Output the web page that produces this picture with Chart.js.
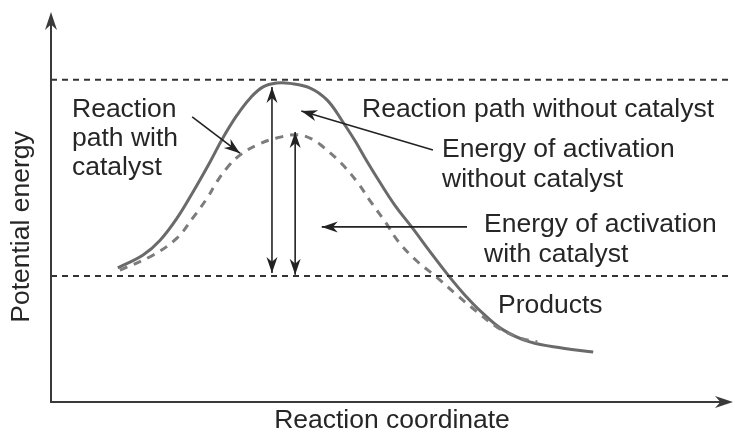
<!DOCTYPE html>
<html>
<head>
<meta charset="utf-8">
<script src="https://cdn.jsdelivr.net/npm/chart.js@4"></script>
<style>
  body { margin:0; background:#fff; }
  .chart_container { width:735px; height:435px; position:relative; }
</style>
</head>
<body>
<div class="chart_container"><canvas id="chart"></canvas></div>
<script>
// reaction coordinate (0-100) and potential energy (0-100)
var no_cat_x = [9.8, 13.5, 16.0, 18.5, 20.8, 23.3, 25.2, 27.3, 29.2, 31.1, 33.1, 35.0, 38.0, 40.5, 42.8, 44.6, 46.3, 48.2, 50.4, 53.1, 55.6, 58.2, 60.7, 63.3, 66.3, 70.2, 75.1, 79.5];
var no_cat_y = [34.4, 37.7, 41.5, 47.2, 53.8, 61.5, 67.7, 73.6, 77.9, 80.8, 81.8, 81.7, 80.5, 77.4, 71.8, 66.9, 61.8, 56.4, 50.5, 44.4, 38.5, 32.6, 27.4, 22.8, 18.5, 15.4, 13.8, 12.8];

var cat_x = [10.1, 15.0, 18.5, 20.8, 22.9, 24.3, 25.8, 27.7, 30.2, 33.1, 36.1, 38.3, 39.9, 42.4, 44.9, 46.9, 49.0, 51.0, 53.8, 56.5, 59.2, 62.5, 65.4, 68.8, 71.3];
var cat_y = [33.8, 37.7, 42.1, 47.2, 52.3, 56.4, 60.0, 63.3, 65.9, 67.7, 68.5, 67.4, 65.4, 61.5, 56.4, 51.3, 46.2, 41.0, 35.9, 32.1, 27.9, 23.1, 19.2, 16.4, 15.4];

var peak_level = 82.6;
var reactant_level = 32.3;

var axis_titles = ["Reaction coordinate", "Potential energy"];

function ToPoints(xs, ys){
  return xs.map((x, i) => ({x:x, y:ys[i]}));
}

// arrows in data units: [x1, y1, x2, y2, both ends]
var arrows = [
  [32.4, 33.1, 32.4, 80.8, true],
  [35.8, 32.6, 35.8, 69.2, true],
  [20.7, 73.1, 27.7, 63.8, false],
  [56.0, 64.6, 36.7, 74.6, false],
  [61.0, 44.9, 39.7, 44.9, false]
];

// text labels: [text, left px, baseline px]
var labels = [
  ["Reaction", 72, 117],
  ["path with", 72, 146],
  ["catalyst", 72, 175],
  ["Reaction path without catalyst", 362, 117],
  ["Energy of activation", 442, 157],
  ["without catalyst", 442, 187],
  ["Energy of activation", 484, 232],
  ["with catalyst", 484, 262],
  ["Products", 498, 313]
];

var FONT = '26.5px "Liberation Sans", Arial, sans-serif';

function Head(ctx, x1, y1, x2, y2, len, wid){
  var a = Math.atan2(y2 - y1, x2 - x1);
  ctx.save();
  ctx.translate(x2, y2);
  ctx.rotate(a);
  ctx.beginPath();
  ctx.moveTo(0, 0);
  ctx.lineTo(-len, -wid / 2);
  ctx.lineTo(-len * 0.7, 0);
  ctx.lineTo(-len, wid / 2);
  ctx.closePath();
  ctx.fill();
  ctx.restore();
}

var decor = {
  id:"decor",
  afterDraw(chart){
    var ctx = chart.ctx;
    var xs = chart.scales.x, ys = chart.scales.y;
    var area = chart.chartArea;

    ctx.save();
    // axes
    ctx.strokeStyle = "#3a3a3a";
    ctx.fillStyle = "#3a3a3a";
    ctx.lineWidth = 2;
    ctx.beginPath();
    ctx.moveTo(area.left, area.top + 10);
    ctx.lineTo(area.left, area.bottom);
    ctx.lineTo(area.right - 10, area.bottom);
    ctx.stroke();
    Head(ctx, area.left, area.bottom, area.left, area.top, 18, 12);
    Head(ctx, area.left, area.bottom, area.right, area.bottom, 18, 12);

    // annotation arrows
    ctx.strokeStyle = "#222";
    ctx.fillStyle = "#222";
    ctx.lineWidth = 1.6;
    arrows.forEach(a => {
      var x1 = xs.getPixelForValue(a[0]), y1 = ys.getPixelForValue(a[1]);
      var x2 = xs.getPixelForValue(a[2]), y2 = ys.getPixelForValue(a[3]);
      ctx.beginPath();
      ctx.moveTo(x1, y1);
      ctx.lineTo(x2, y2);
      ctx.stroke();
      Head(ctx, x1, y1, x2, y2, 16, 11);
      if(a[4]) Head(ctx, x2, y2, x1, y1, 16, 11);
    });

    // texts
    ctx.fillStyle = "#262626";
    ctx.font = FONT;
    ctx.textBaseline = "alphabetic";
    ctx.textAlign = "left";
    labels.forEach(l => ctx.fillText(l[0], l[1], l[2]));

    ctx.textAlign = "center";
    ctx.fillText(axis_titles[0], 392, 428);
    ctx.translate(29, 227);
    ctx.rotate(-Math.PI / 2);
    ctx.fillText(axis_titles[1], 0, 0);
    ctx.restore();
  }
};

function RenderChart(){
  var ctx = document.getElementById("chart");
  new Chart(ctx, {
    type:"line",
    data:{
      datasets:[
        {
          data:[{x:0, y:peak_level}, {x:100, y:peak_level}],
          borderColor:"#333", borderWidth:2, borderDash:[6, 5], pointRadius:0
        },
        {
          data:[{x:0, y:reactant_level}, {x:100, y:reactant_level}],
          borderColor:"#333", borderWidth:2, borderDash:[6, 5], pointRadius:0
        },
        {
          label:"Reaction path with catalyst",
          data:ToPoints(cat_x, cat_y),
          borderColor:"#7c7c7c", borderWidth:3, borderDash:[8, 7], pointRadius:0,
          tension:0.4
        },
        {
          label:"Reaction path without catalyst",
          data:ToPoints(no_cat_x, no_cat_y),
          borderColor:"#6a6a6a", borderWidth:3, pointRadius:0,
          tension:0.4
        }
      ]
    },
    options:{
      responsive:true,
      maintainAspectRatio:false,
      animation:false,
      layout:{ padding:{ left:51, right:2, top:12, bottom:33 } },
      plugins:{ legend:{ display:false }, tooltip:{ enabled:false } },
      scales:{
        x:{ type:"linear", min:0, max:100, display:false },
        y:{ type:"linear", min:0, max:100, display:false }
      }
    },
    plugins:[decor]
  });
}

RenderChart();
</script>
</body>
</html>
